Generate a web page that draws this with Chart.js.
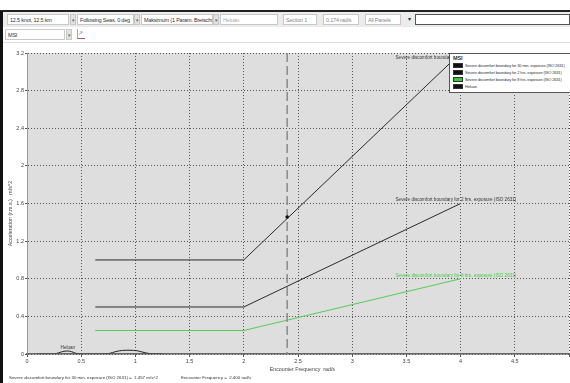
<!DOCTYPE html>
<html>
<head>
<meta charset="utf-8">
<script src="https://cdn.jsdelivr.net/npm/chart.js@4/dist/chart.umd.min.js"></script>
<style>
  html, body { margin: 0; padding: 0; background: #fff; }
  body { width: 570px; height: 383px; position: relative; overflow: hidden;
         font-family: "Liberation Sans", Arial, sans-serif; }
  #frame { position: absolute; left: 0; top: 11px; width: 3px; height: 372px; background: #111; }
  #topline { position: absolute; left: 0; top: 10px; width: 570px; height: 2px; background: #222; }
  #bar1 { position: absolute; left: 3px; top: 12px; width: 567px; height: 15px; background: #ececec; }
  #bar2 { position: absolute; left: 3px; top: 27px; width: 567px; height: 15px; background: #fff; border-bottom: 1px solid #ddd; }
  .box { position: absolute; top: 2px; height: 11px; background: #fff; border: 1px solid #c8c8c8;
         font-size: 5.5px; line-height: 10px; padding-left: 2px; color: #333; white-space: nowrap; overflow: hidden; box-sizing: border-box; letter-spacing: -0.2px; }
  .arr { position: absolute; top: 2px; width: 6px; height: 11px; background: #e2e2e2; border: 1px solid #c8c8c8; box-sizing: border-box;
         font-size: 5px; line-height: 10px; text-align: center; color: #666; }
  #wrap { position: absolute; left: 3px; top: 44px; width: 567px; height: 339px; }
  #legend { position: absolute; left: 449px; top: 53px; width: 125px; height: 40px; background: #fff;
            border: 1px solid #555; box-sizing: border-box; font-size: 4px; color: #333; padding: 1px 3px; letter-spacing: -0.15px; }
  #legend .t { font-size: 5.5px; font-weight: bold; margin-bottom: 1px; }
  #legend .r { height: 7px; line-height: 7px; white-space: nowrap; }
  #legend .s { display: inline-block; width: 10px; height: 5px; border: 1px solid #333; box-sizing: border-box;
               vertical-align: middle; margin-right: 2px; }
</style>
</head>
<body>
<div id="topline"></div>
<div id="bar1">
  <div class="box" style="left:4px;width:62px">12.5 knot, 12.5 km</div>
  <div class="arr" style="left:67px">&#9662;</div>
  <div class="box" style="left:74px;width:57px">Following Seas, 0 deg</div>
  <div class="arr" style="left:131px">&#9662;</div>
  <div class="box" style="left:138px;width:72px">Maksimum (1 Param. Bretschneid</div>
  <div class="arr" style="left:210px">&#9662;</div>
  <div class="box" style="left:217px;width:58px;color:#aaa">Heluan</div>
  <div class="box" style="left:280px;width:34px;color:#888">Section 1</div>
  <div class="box" style="left:320px;width:36px;color:#888">0.174 rad/s</div>
  <div class="box" style="left:362px;width:36px;color:#888">All Panels</div>
  <div class="box" style="left:403px;width:10px;background:#ececec;border:none">&#9662;</div>
  <div class="box" style="left:412px;width:155px;border-color:#555"></div>
</div>
<div id="bar2">
  <div class="box" style="left:2px;width:60px">MSI</div>
  <div class="arr" style="left:63px">&#9662;</div>
  <div style="position:absolute;left:74px;top:2px;width:7px;height:9px;border-bottom:1px solid #a57;border-left:1px solid #aaa;font-size:6px;color:#864;line-height:9px">&#8599;</div>
</div>
<div id="frame"></div>
<div id="wrap"><canvas id="c" width="567" height="339"></canvas></div>
<div id="legend">
  <div class="t">MSI</div>
  <div class="r"><span class="s" style="background:#111"></span>Severe discomfort boundary for 30 min. exposure (ISO 2631)</div>
  <div class="r"><span class="s" style="background:#111"></span>Severe discomfort boundary for 2 hrs. exposure (ISO 2631)</div>
  <div class="r"><span class="s" style="background:#3c3"></span>Severe discomfort boundary for 8 hrs. exposure (ISO 2631)</div>
  <div class="r"><span class="s" style="background:#111"></span>Heluan</div>
</div>
<script>
// Boundary break points (rad/s) and ISO 2631 severe discomfort levels (m/s^2)
const boundaryFreq = [0.63, 2.0, 4.0];
const bound30min  = [1.0, 1.0, 3.2];
const bound2hrs   = [0.5, 0.5, 1.6];
const bound8hrs   = [0.25, 0.25, 0.8];

// Vessel response spectrum (Heluan)
const heluanFreq = [0.10, 0.25, 0.29, 0.33, 0.37, 0.41, 0.45, 0.50, 0.60, 0.70, 0.76, 0.82, 0.88, 0.95, 1.02, 1.08, 1.13, 1.20, 1.25];
const heluanMsi  = [0.0, 0.0, 0.012, 0.026, 0.032, 0.025, 0.008, 0.0, 0.0, 0.0, 0.006, 0.026, 0.038, 0.04, 0.034, 0.016, 0.005, 0.002, 0.0];

// Selected encounter frequency and resulting value
const selFreq = 2.4;
const selMsi = 1.457;

const yTickLabels = ["0", "0.4", "0.8", "1.2", "1.6", "2", "2.4", "2.8", "3.2"];
const xTickLabels = ["0", "0.5", "1", "1.5", "2", "2.5", "3", "3.5", "4", "4.5", ""];

const lineLabels = [
  "Severe discomfort boundary for 30 min. exposure (ISO 2631)",
  "Severe discomfort boundary for 2 hrs. exposure (ISO 2631)",
  "Severe discomfort boundary for 8 hrs. exposure (ISO 2631)"
];

const pts = (xs, ys) => xs.map((x, i) => ({ x: x, y: ys[i] }));
const FONT = '"Liberation Sans", Arial, sans-serif';

const overlay = {
  id: 'overlay',
  beforeDraw(chart) {
    const { ctx, chartArea: a } = chart;
    ctx.save();
    ctx.fillStyle = '#dedede';
    ctx.fillRect(a.left, a.top, a.right - a.left, a.bottom - a.top);
    ctx.restore();
  },
  afterDatasetsDraw(chart) {
    const { ctx, chartArea: a, scales: { x, y } } = chart;
    ctx.save();
    // solid baseline
    ctx.strokeStyle = '#666';
    ctx.lineWidth = 1.2;
    ctx.beginPath();
    ctx.moveTo(a.left, a.bottom);
    ctx.lineTo(a.right, a.bottom);
    ctx.stroke();

    // selected frequency marker
    const px = x.getPixelForValue(selFreq);
    ctx.strokeStyle = '#8a8a8a';
    ctx.lineWidth = 1.5;
    ctx.setLineDash([9, 4]);
    ctx.beginPath();
    ctx.moveTo(px, a.top);
    ctx.lineTo(px, a.bottom);
    ctx.stroke();
    ctx.setLineDash([]);
    ctx.fillStyle = '#111';
    ctx.beginPath();
    ctx.arc(px, y.getPixelForValue(selMsi), 1.8, 0, Math.PI * 2);
    ctx.fill();

    // boundary labels at the end of each line
    ctx.font = '4.6px ' + FONT;
    ctx.textBaseline = 'bottom';
    const lx = x.getPixelForValue(3.4);
    ctx.fillStyle = '#333';
    ctx.fillText(lineLabels[0], lx, y.getPixelForValue(3.2) + 7);
    ctx.fillText(lineLabels[1], lx, y.getPixelForValue(1.6) - 1);
    ctx.fillStyle = '#44cc44';
    ctx.fillText(lineLabels[2], lx, y.getPixelForValue(0.8) - 1);
    ctx.fillStyle = '#333';
    ctx.fillText('Heluan', x.getPixelForValue(0.31), y.getPixelForValue(0.045));

    // axis titles
    ctx.fillStyle = '#444';
    ctx.font = '5.3px ' + FONT;
    ctx.textAlign = 'center';
    ctx.textBaseline = 'alphabetic';
    ctx.fillText('Encounter Frequency  rad/s', x.getPixelForValue(2.54), a.bottom + 17);
    ctx.save();
    ctx.translate(9, (a.top + a.bottom) / 2 + 10);
    ctx.rotate(-Math.PI / 2);
    ctx.fillText('Acceleration (r.m.s.)   m/s^2', 0, 0);
    ctx.restore();

    // readout line
    ctx.textAlign = 'left';
    ctx.font = '4.4px ' + FONT;
    ctx.fillStyle = '#333';
    ctx.fillText('Severe discomfort boundary for 30 min. exposure (ISO 2631) =  ' + selMsi.toFixed(3) + ' m/s^2', 6, a.bottom + 25);
    ctx.fillText('Encounter Frequency =  ' + selFreq.toFixed(3) + ' rad/s', 178, a.bottom + 25);
    ctx.restore();
  }
};

new Chart(document.getElementById('c'), {
  type: 'line',
  data: {
    datasets: [
      { label: lineLabels[0], data: pts(boundaryFreq, bound30min), borderColor: '#2a2a2a', borderWidth: 1, pointRadius: 0, tension: 0 },
      { label: lineLabels[1], data: pts(boundaryFreq, bound2hrs), borderColor: '#2a2a2a', borderWidth: 1, pointRadius: 0, tension: 0 },
      { label: lineLabels[2], data: pts(boundaryFreq, bound8hrs), borderColor: '#55cc55', borderWidth: 1, pointRadius: 0, tension: 0 },
      { label: 'Heluan', data: pts(heluanFreq, heluanMsi), borderColor: '#222', borderWidth: 1, pointRadius: 0, tension: 0.3 }
    ]
  },
  options: {
    responsive: false,
    animation: false,
    maintainAspectRatio: false,
    layout: { padding: { top: 9, right: 0, left: 0, bottom: 0 } },
    plugins: { legend: { display: false }, tooltip: { enabled: false } },
    scales: {
      x: {
        type: 'linear', min: 0, max: 5,
        afterFit(s) { s.height = 29; },
        afterBuildTicks(s) { s.ticks = xTickLabels.map((_, i) => ({ value: i * 0.5 })); },
        ticks: { font: { size: 5.5, family: FONT }, color: '#444', padding: 1, maxRotation: 0, autoSkip: false,
                 callback: (v, i) => xTickLabels[i] },
        grid: { color: '#555', lineWidth: 1, tickLength: 3, tickColor: '#555', drawTicks: true },
        border: { color: '#666', width: 1.2, dash: [1, 2] }
      },
      y: {
        min: 0, max: 3.2,
        afterFit(s) { s.width = 24; },
        afterBuildTicks(s) { s.ticks = yTickLabels.map((_, i) => ({ value: i * 0.4 })); },
        ticks: { font: { size: 5.5, family: FONT }, color: '#444', padding: 1, autoSkip: false,
                 callback: (v, i) => yTickLabels[i] },
        grid: { color: '#555', lineWidth: 1, tickLength: 2, tickColor: '#555' },
        border: { color: '#999', width: 1, dash: [1, 2] }
      }
    }
  },
  plugins: [overlay]
});
</script>
</body>
</html>
